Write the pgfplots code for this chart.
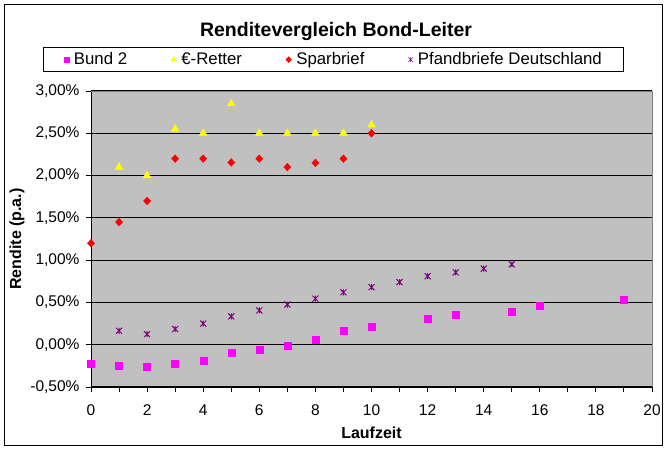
\documentclass[border=0pt]{standalone}
\usepackage{pgfplots}
\pgfplotsset{compat=1.18}
\usepackage{fontspec}
\setmainfont{Liberation Sans}
\definecolor{bgc}{HTML}{C0C0C0}
\definecolor{mag}{HTML}{FF00FF}
\definecolor{yel}{HTML}{FFFF00}
\definecolor{rd}{HTML}{FF0000}
\definecolor{pur}{HTML}{800080}
\pgfdeclareplotmark{xlstar}{%
  \pgfpathmoveto{\pgfqpoint{-\pgfplotmarksize}{-\pgfplotmarksize}}%
  \pgfpathlineto{\pgfqpoint{\pgfplotmarksize}{\pgfplotmarksize}}%
  \pgfpathmoveto{\pgfqpoint{-\pgfplotmarksize}{\pgfplotmarksize}}%
  \pgfpathlineto{\pgfqpoint{\pgfplotmarksize}{-\pgfplotmarksize}}%
  \pgfpathmoveto{\pgfqpoint{0pt}{-\pgfplotmarksize}}%
  \pgfpathlineto{\pgfqpoint{0pt}{\pgfplotmarksize}}%
  \pgfusepathqstroke}
\begin{document}
\begin{tikzpicture}
\path[use as bounding box,fill=white] (0pt,0pt) rectangle (669pt,450pt);
\draw[black,line width=1pt] (4.5pt,4.5pt) rectangle (662pt,445.5pt);
\node[font=\fontsize{19.5}{22}\selectfont\bfseries] at (336pt,418pt) {Renditevergleich Bond-Leiter};
\begin{axis}[
  at={(91pt,63pt)}, anchor=south west,
  scale only axis, width=561pt, height=296pt,
  xmin=0, xmax=20, ymin=-0.5, ymax=3,
  axis background/.style={fill=bgc},
  axis x line*=bottom, axis y line*=left,
  axis line style={black,line width=1pt},
  xtick={0,2,...,20}, minor xtick={1,3,...,19},
  ytick={-0.5,0,0.5,1,1.5,2,2.5,3},
  yticklabels={{-0,50\%},{0,00\%},{0,50\%},{1,00\%},{1,50\%},{2,00\%},{2,50\%},{3,00\%}},
  tick align=outside, major tick length=5pt, minor tick length=5pt,
  tick style={black,line width=1pt},
  ymajorgrids, grid style={black,line width=1.1pt},
  /pgf/number format/assume math mode=true,
  tick label style={font=\fontsize{15.5}{18}\selectfont},
  xticklabel style={yshift=-9pt},
  yticklabel style={xshift=-3pt},
  xlabel={Laufzeit}, ylabel={Rendite (p.a.)},
  label style={font=\fontsize{16}{19}\selectfont\bfseries},
  xlabel style={at={(axis description cs:0.5,-0.1554)},anchor=center},
  ylabel style={at={(axis description cs:-0.1319,0.5)},anchor=center,rotate=0},
  clip=false,
  legend columns=4,
  legend style={at={(axis description cs:0.433,1.106)},anchor=center,
    draw=black,line width=1pt,font=\fontsize{16.8}{19}\selectfont,
    inner xsep=20pt,inner ysep=3pt,
    /tikz/every odd column/.append style={column sep=3pt},
    /tikz/every even column/.append style={column sep=42pt}},
  legend image code/.code={\draw[#1,line width=0.6pt] plot coordinates {(0pt,0pt)};},
]
\addplot[only marks,mark=square*,mark size=3.5pt,color=mag,legend image post style={mark size=2.5pt}] coordinates {
(0,-0.22) (1,-0.245) (2,-0.255) (3,-0.23) (4,-0.185) (5,-0.10) (6,-0.055) (7,-0.01) (8,0.06) (9,0.16) (10,0.215)
(12,0.31) (13,0.36) (15,0.39) (16,0.46) (19,0.53)};
\addlegendentry{Bund 2}
\addplot[only marks,mark=triangle*,mark size=4.5pt,color=yel,legend image post style={mark size=3pt}] coordinates {
(1,2.10) (2,2.00) (3,2.55) (4,2.50) (5,2.85) (6,2.50) (7,2.50) (8,2.50) (9,2.50) (10,2.60)};
\addlegendentry{\texteuro-Retter}
\addplot[only marks,mark=diamond*,mark size=3.8pt,mark options={xscale=1.25},color=rd,legend image post style={mark size=2.8pt}] coordinates {
(0,1.20) (1,1.45) (2,1.70) (3,2.20) (4,2.20) (5,2.155) (6,2.20) (7,2.10) (8,2.15) (9,2.20) (10,2.50)};
\addlegendentry{Sparbrief}
\addplot[only marks,mark=xlstar,mark size=3pt,color=pur,line width=1pt,legend image post style={mark size=2.2pt}] coordinates {
(1,0.165) (2,0.125) (3,0.185) (4,0.25) (5,0.335) (6,0.405) (7,0.475) (8,0.545) (9,0.62) (10,0.68)
(11,0.74) (12,0.81) (13,0.855) (14,0.90) (15,0.95)};
\addlegendentry{Pfandbriefe Deutschland}
\draw[color=gray,line width=1pt] (rel axis cs:0,1) -- (rel axis cs:1,1) -- (rel axis cs:1,0);
\end{axis}
\end{tikzpicture}
\end{document}
